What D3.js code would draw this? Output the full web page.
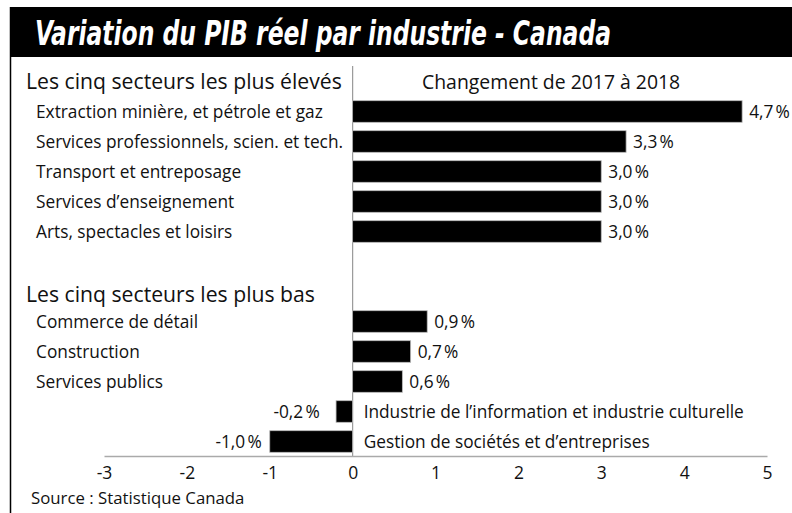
<!DOCTYPE html>
<html>
<head>
<meta charset="utf-8">
<script src="https://cdn.jsdelivr.net/npm/d3@7"></script>
<style>
  body { margin: 0; background: #fff; }
  svg { display: block; font-family: "Open Sans", "Noto Sans", sans-serif; }
</style>
</head>
<body>
<div id="chart"></div>
<script>
// Données
var topSectors = ['Extraction minière, et pétrole et gaz', 'Services professionnels, scien. et tech.',
    'Transport et entreposage', 'Services d\u2019enseignement', 'Arts, spectacles et loisirs'];
var topValues = [4.7, 3.3, 3.0, 3.0, 3.0];

var lowSectors = ['Commerce de détail', 'Construction', 'Services publics',
    'Industrie de l\u2019information et industrie culturelle', 'Gestion de sociétés et d\u2019entreprises'];
var lowValues = [0.9, 0.7, 0.6, -0.2, -1.0];

var tickValues = [-3, -2, -1, 0, 1, 2, 3, 4, 5];

var width = 792;
var height = 513;

var svg = d3.select('#chart')
    .append('svg')
    .attr('width', width)
    .attr('height', height);

// Cadre et bandeau du titre
svg.append('line')
    .attr('x1', 10.5).attr('x2', 10.5)
    .attr('y1', 7).attr('y2', height)
    .attr('stroke', '#000')
    .attr('stroke-width', 1.5);

svg.append('rect')
    .attr('x', 10).attr('y', 7)
    .attr('width', width - 10).attr('height', 50)
    .attr('fill', '#000');

svg.append('text')
    .attr('x', 35).attr('y', 45)
    .attr('fill', '#fff')
    .attr('font-size', 33)
    .attr('font-weight', 'bold')
    .attr('font-style', 'italic')
    .attr('textLength', 576)
    .attr('lengthAdjust', 'spacingAndGlyphs')
    .style('font-family', '"Liberation Sans Narrow", "DejaVu Sans Condensed", "Open Sans", sans-serif')
    .text('Variation du PIB réel par industrie - Canada');

// Lignes du graphique : 5 hauts, 2 vides, 5 bas
var rows = topSectors.map(function(d, i) {
    return { name: d, value: topValues[i], slot: i };
}).concat(lowSectors.map(function(d, i) {
    return { name: d, value: lowValues[i], slot: i + 7 };
}));

var x = d3.scaleLinear()
    .domain([-3, 5])
    .range([104, 767]);

var y = d3.scaleBand()
    .domain(d3.range(12))
    .range([96.5, 456.5])
    .paddingInner(0.28)
    .paddingOuter(0.14);

// Ligne du zéro
svg.append('line')
    .attr('x1', x(0)).attr('x2', x(0))
    .attr('y1', 66).attr('y2', 456)
    .attr('stroke', '#9a9a9a')
    .attr('stroke-width', 1.2);

// Axe x
var axis = svg.append('g')
    .attr('transform', 'translate(0,456)')
    .call(d3.axisBottom(x).tickValues(tickValues).tickSize(0).tickPadding(11)
        .tickFormat(function(d) { return d < 0 ? '-' + Math.abs(d) : d; }));
axis.select('.domain').attr('stroke', '#aaa').attr('stroke-width', 1.5);
axis.selectAll('text')
    .attr('font-size', 17.5)
    .attr('fill', '#111')
    .style('font-family', '"Open Sans", sans-serif');

// Barres
svg.selectAll('.bar')
    .data(rows)
    .enter().append('rect')
    .attr('class', 'bar')
    .attr('x', function(d) { return x(Math.min(0, d.value)); })
    .attr('y', function(d) { return y(d.slot); })
    .attr('width', function(d) { return Math.abs(x(d.value) - x(0)); })
    .attr('height', y.bandwidth())
    .attr('fill', '#000')
    .attr('stroke', '#bbb')
    .attr('stroke-width', 0.8);

// Étiquettes de valeur (espace fine avant %)
function fmt(v) {
    return v.toFixed(1).replace('.', ',') + '\u202f%';
}

svg.selectAll('.val')
    .data(rows)
    .enter().append('text')
    .attr('class', 'val')
    .attr('x', function(d) {
        return d.value >= 0 ? x(d.value) + 7 : Math.min(x(d.value), x(-0.3)) - 8;
    })
    .attr('y', function(d) { return y(d.slot) + y.bandwidth() / 2; })
    .attr('dy', '0.35em')
    .attr('text-anchor', function(d) { return d.value >= 0 ? 'start' : 'end'; })
    .attr('font-size', 17.3)
    .attr('fill', '#111')
    .text(function(d) { return fmt(d.value); });

// Noms des secteurs
svg.selectAll('.name')
    .data(rows)
    .enter().append('text')
    .attr('class', 'name')
    .attr('x', function(d) { return d.value >= 0 ? 36 : x(0) + 11; })
    .attr('y', function(d) { return y(d.slot) + y.bandwidth() / 2; })
    .attr('dy', '0.35em')
    .attr('font-size', 17.3)
    .attr('fill', '#111')
    .text(function(d) { return d.name; });

// Titres de groupes
svg.append('text')
    .attr('x', 26).attr('y', 89)
    .attr('font-size', 21.2)
    .attr('fill', '#111')
    .text('Les cinq secteurs les plus élevés');

svg.append('text')
    .attr('x', 26).attr('y', 302)
    .attr('font-size', 21.2)
    .attr('fill', '#111')
    .text('Les cinq secteurs les plus bas');

svg.append('text')
    .attr('x', 422).attr('y', 89)
    .attr('font-size', 19.4)
    .attr('fill', '#111')
    .text('Changement de 2017 à 2018');

// Source
svg.append('text')
    .attr('x', 31).attr('y', 504)
    .attr('font-size', 16.8)
    .attr('fill', '#111')
    .text('Source : Statistique Canada');
</script>
</body>
</html>
